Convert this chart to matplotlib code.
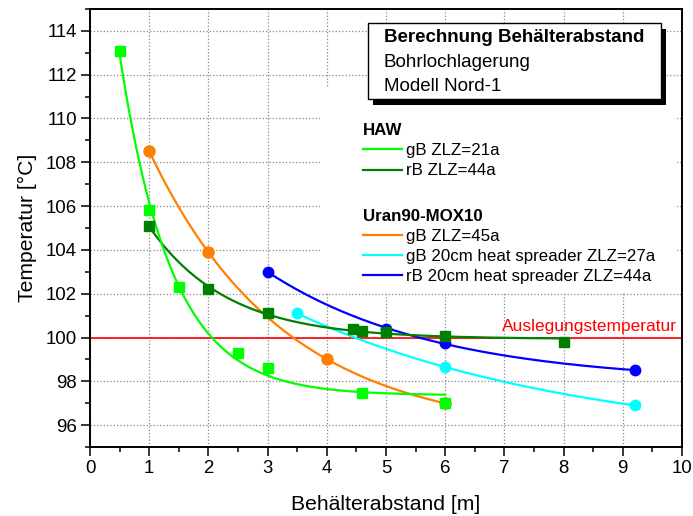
import numpy as np
import matplotlib
matplotlib.use("Agg")
import matplotlib.pyplot as plt
from matplotlib.patches import Rectangle
from matplotlib.ticker import MultipleLocator

plt.rcParams['font.family'] = ['Liberation Sans', 'DejaVu Sans']

# Daten
# HAW
haw_gb_x = [0.5, 1.0, 1.5, 2.5, 3.0, 4.6, 6.0]
haw_gb_y = [113.1, 105.8, 102.3, 99.3, 98.6, 97.45, 97.0]
haw_rb_x = [1.0, 2.0, 3.0, 4.45, 4.6, 5.0, 6.0, 8.0]
haw_rb_y = [105.1, 102.2, 101.1, 100.4, 100.3, 100.25, 100.05, 99.8]
# Uran90-MOX10
mox_gb_x = [1.0, 2.0, 4.0, 6.0]
mox_gb_y = [108.5, 103.9, 99.0, 97.0]
mox_gbhs_x = [3.5, 6.0, 9.2]
mox_gbhs_y = [101.1, 98.65, 96.9]
mox_rbhs_x = [3.0, 5.0, 6.0, 9.2]
mox_rbhs_y = [103.0, 100.4, 99.75, 98.5]

grenzwert = 100.0


# exponentieller Abfall y = y0 + A*exp(-x/t), Fit per Gittersuche ueber t
def exp_fit(x, y):
    x = np.asarray(x, float)
    y = np.asarray(y, float)
    best = None
    for t in np.linspace(0.1, 30, 6000):
        M = np.column_stack([np.ones_like(x), np.exp(-x / t)])
        coef = np.linalg.lstsq(M, y, rcond=None)[0]
        err = np.sum((M @ coef - y) ** 2)
        if best is None or err < best[0]:
            best = (err, t, coef)
    _, t, coef = best
    xx = np.linspace(x.min(), x.max(), 200)
    return xx, coef[0] + coef[1] * np.exp(-xx / t)


fig = plt.figure(figsize=(6.93, 5.16), dpi=100)
ax = fig.add_axes([0.1299, 0.1337, 0.8542, 0.8489])

serien = [
    (mox_gb_x, mox_gb_y, '#FF8000', 'o', 8, 'gB ZLZ=45a'),
    (mox_gbhs_x, mox_gbhs_y, '#00FFFF', 'o', 7.5, 'gB 20cm heat spreader ZLZ=27a'),
    (mox_rbhs_x, mox_rbhs_y, '#0000FF', 'o', 7.5, 'rB 20cm heat spreader ZLZ=44a'),
    (haw_rb_x, haw_rb_y, '#008000', 's', 7, 'rB ZLZ=44a'),
    (haw_gb_x, haw_gb_y, '#00FF00', 's', 6.5, 'gB ZLZ=21a'),
]
handles = {}
for x, y, c, m, ms, lab in serien:
    xx, yy = exp_fit(x, y)
    h, = ax.plot(xx, yy, color=c, lw=1.6, zorder=3, label=lab)
    ax.plot(x, y, linestyle='none', marker=m, ms=ms, color=c, mec=c, zorder=4)
    handles[lab] = h

ax.axhline(grenzwert, color='#FF0000', lw=1.2, zorder=2.5)
ax.text(0.992, (grenzwert - 95) / 20 + 0.008, 'Auslegungstemperatur', color='#FF0000',
        fontsize=12.5, ha='right', va='bottom', transform=ax.transAxes, zorder=5)

ax.set_xlim(0, 10)
ax.set_ylim(95, 115)
ax.xaxis.set_major_locator(MultipleLocator(1))
ax.xaxis.set_minor_locator(MultipleLocator(0.5))
ax.yaxis.set_major_locator(MultipleLocator(2))
ax.yaxis.set_minor_locator(MultipleLocator(1))
ax.grid(True, which='major', linestyle=':', color='#888888', lw=0.9, zorder=0)
ax.set_axisbelow(True)
ax.tick_params(which='major', direction='out', length=6.5, width=1.1, labelsize=13.4, pad=3)
ax.tick_params(which='minor', direction='out', length=3.5, width=1.1)
for s in ax.spines.values():
    s.set_linewidth(1.4)

ax.set_xlabel('Behälterabstand [m]', fontsize=15.2)
ax.set_ylabel('Temperatur [°C]', fontsize=15.2)
ax.xaxis.set_label_coords(0.5, -0.11)
ax.yaxis.set_label_coords(-0.09, 0.5)

# weisser Hintergrund hinter der Legende
ax.add_patch(Rectangle((0.3885, 0.3516), 0.603, 0.47, transform=ax.transAxes,
                       facecolor='white', edgecolor='none', zorder=1))

# Textbox mit Schatten
ax.add_patch(Rectangle((0.4780, 0.7808), 0.4949, 0.1735, transform=ax.transAxes,
                       facecolor='black', edgecolor='none', zorder=6))
ax.add_patch(Rectangle((0.4696, 0.7945), 0.4949, 0.1735, transform=ax.transAxes,
                       facecolor='white', edgecolor='black', lw=1.0, zorder=7))
ax.text(0.4966, 0.934, 'Berechnung Behälterabstand', fontsize=13.5, fontweight='bold',
        va='center', transform=ax.transAxes, zorder=8)
ax.text(0.4966, 0.877, 'Bohrlochlagerung', fontsize=13.5, va='center',
        transform=ax.transAxes, zorder=8)
ax.text(0.4966, 0.8235, 'Modell Nord-1', fontsize=13.5, va='center',
        transform=ax.transAxes, zorder=8)

# Legenden
leg_kw = dict(frameon=False, loc='upper left', fontsize=12.2, handlelength=2.3,
              handletextpad=0.25, labelspacing=0.3, borderpad=0, borderaxespad=0,
              alignment='left', title_fontproperties={'weight': 'bold', 'size': 12.2})
leg1 = ax.legend([handles['gB ZLZ=21a'], handles['rB ZLZ=44a']],
                 ['gB ZLZ=21a', 'rB ZLZ=44a'], title='HAW',
                 bbox_to_anchor=(0.461, 0.739), **leg_kw)
leg1.set_zorder(8)
ax.add_artist(leg1)
labs2 = ['gB ZLZ=45a', 'gB 20cm heat spreader ZLZ=27a', 'rB 20cm heat spreader ZLZ=44a']
leg2 = ax.legend([handles[l] for l in labs2], labs2, title='Uran90-MOX10',
                 bbox_to_anchor=(0.461, 0.5445), **leg_kw)
leg2.set_zorder(8)

fig.savefig('out.png', dpi=100)
